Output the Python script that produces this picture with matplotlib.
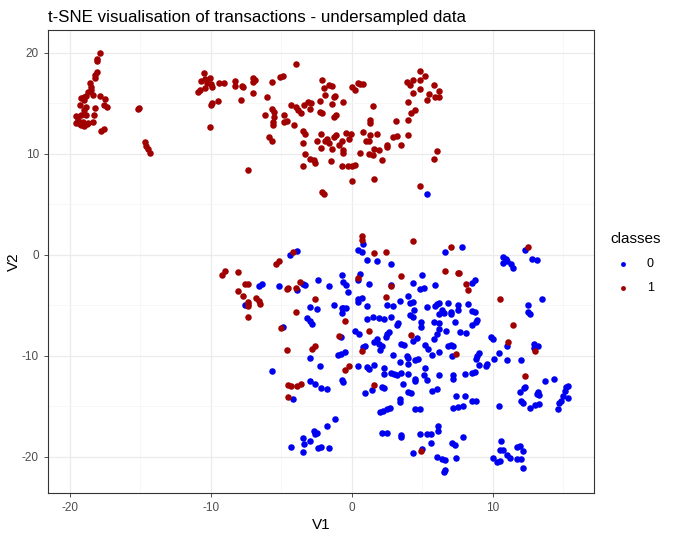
import numpy as np
import matplotlib
matplotlib.use('Agg')
import matplotlib.pyplot as plt

plt.rcParams['font.family'] = ['Liberation Sans', 'DejaVu Sans']
plt.rcParams['axes.unicode_minus'] = False

# t-SNE coordinates, [V1, V2]
class1_pts = [
    (-17.9, 20.0), (-18.1, 19.4), (-18.1, 19.2), (-18.1, 18.1), (-18.2, 17.8), (-18.2, 17.5),
    (-18.6, 17.0), (-18.5, 16.6), (-18.5, 16.3), (-18.7, 16.1), (-18.4, 15.8), (-18.9, 15.7),
    (-19.2, 15.5), (-19.0, 15.3), (-19.0, 15.6), (-17.9, 15.7), (-17.5, 15.4), (-17.6, 14.8),
    (-17.4, 14.6), (-19.3, 14.8), (-18.9, 14.6), (-19.0, 14.3), (-18.2, 14.5), (-19.6, 13.7),
    (-19.2, 13.8), (-18.9, 13.8), (-18.3, 13.8), (-19.4, 13.3), (-19.1, 13.1), (-19.2, 12.8),
    (-18.8, 12.9), (-18.7, 13.0), (-19.6, 13.0), (-18.4, 13.1), (-19.3, 12.9), (-19.0, 12.7),
    (-17.8, 12.2), (-17.6, 12.4), (-15.2, 14.4), (-15.1, 14.5), (-14.7, 11.2), (-14.6, 10.8),
    (-14.5, 10.5), (-14.3, 10.1),
    (-10.5, 18.0), (-10.7, 17.2), (-10.4, 17.4), (-10.1, 17.5), (-10.3, 17.0), (-10.0, 16.9),
    (-9.9, 16.6), (-10.4, 16.5), (-10.9, 16.1), (-10.8, 16.3), (-9.4, 17.0), (-9.1, 17.0),
    (-8.3, 17.2), (-8.3, 16.7), (-7.8, 16.7), (-7.7, 16.6), (-7.9, 15.3), (-9.5, 15.2),
    (-10.0, 14.8), (-9.9, 15.0), (-10.1, 12.6), (-7.0, 17.5), (-7.0, 17.1), (-6.9, 17.3),
    (-7.0, 16.0), (-7.4, 8.4), (-5.7, 17.1), (-5.1, 17.6), (-4.9, 17.7), (-4.0, 18.9),
    (-6.0, 15.6), (-6.2, 13.8), (-5.7, 14.4), (-5.5, 14.1), (-5.5, 13.6), (-5.6, 13.1),
    (-5.6, 12.8), (-5.9, 11.6), (-5.7, 11.3), (-4.8, 13.8), (-4.8, 13.1), (-4.6, 13.2),
    (-4.1, 12.8), (-4.3, 14.8), (-4.0, 14.6), (-3.8, 14.3), (-3.6, 14.0), (-3.4, 14.8),
    (-3.1, 15.1), (-2.9, 15.0), (-3.0, 14.4), (-3.5, 12.2), (-3.3, 11.9), (-3.5, 11.1),
    (-3.3, 10.0), (-3.5, 8.8), (-3.0, 9.5), (-2.7, 9.4), (-2.6, 9.1), (-2.2, 11.9),
    (-2.5, 11.3), (-2.2, 10.6), (-2.1, 17.3), (-2.0, 16.5), (-1.9, 15.8), (-2.3, 15.2),
    (-2.3, 14.1), (-2.1, 14.0), (-1.6, 16.8), (-1.4, 16.7), (-1.4, 14.9), (-1.3, 15.6),
    (-1.2, 15.7), (-1.3, 13.6), (-1.1, 13.8), (-0.6, 15.1), (-1.9, 11.3), (-1.8, 11.5),
    (-1.6, 11.1), (-1.4, 10.5), (-1.3, 11.6), (-1.1, 11.8), (-0.9, 10.9), (-0.7, 11.3),
    (-0.6, 10.4), (-0.6, 10.1), (-0.4, 12.0), (-0.1, 11.9), (-0.2, 11.5), (-1.5, 9.3),
    (-0.7, 8.8), (-0.3, 8.8), (0.0, 8.8), (0.2, 8.9), (0.0, 7.3), (-2.1, 6.2),
    (-2.0, 6.0), (0.0, 16.6), (0.2, 16.3), (0.4, 17.0), (0.6, 16.9), (0.8, 16.9),
    (1.5, 14.7), (1.3, 13.3), (1.3, 13.0), (0.8, 12.1), (1.3, 11.8), (1.2, 11.3),
    (1.0, 11.3), (1.8, 11.9), (0.6, 10.1), (1.2, 10.0), (1.5, 9.9), (1.6, 10.5),
    (1.9, 10.4), (2.1, 9.4), (1.6, 7.5), (2.5, 10.9), (2.5, 10.7), (2.9, 11.6),
    (3.2, 11.7), (3.1, 13.2), (3.5, 10.9), (4.0, 11.8), (4.0, 13.3), (4.0, 15.1),
    (4.2, 14.0), (4.5, 14.3), (4.3, 16.0), (3.9, 17.1), (4.1, 16.8), (4.3, 17.3),
    (4.8, 18.2), (5.2, 17.7), (4.8, 17.3), (4.8, 16.4), (5.3, 15.3), (5.5, 15.9),
    (5.8, 16.8), (6.2, 16.2), (5.9, 15.6), (6.2, 15.6), (5.8, 9.5), (6.0, 10.3),
    (4.8, 6.8),
    (0.7, 1.8), (0.7, 1.5), (-4.2, 0.3), (-5.4, -0.9), (-5.2, -0.6), (-9.2, -2.0),
    (-9.0, -1.6), (-8.1, -1.7), (-7.6, -2.9), (-7.4, -2.9), (-8.1, -3.6), (-7.7, -4.1),
    (-7.4, -4.7), (-7.4, -5.1), (-7.4, -4.9), (-6.8, -4.3), (-6.6, -4.6), (-6.5, -4.9),
    (-7.4, -6.2), (-4.6, -3.4), (-4.5, -3.3), (-4.0, -3.3), (-3.7, -2.7), (0.4, -2.3),
    (-2.6, -4.4), (-4.0, -5.7), (-0.5, -6.6), (-5.0, -7.3), (-0.9, -8.1), (1.2, -7.6),
    (-2.8, -9.3), (-2.6, -9.0), (-4.6, -9.4), (0.7, -9.5), (4.3, 1.4), (1.6, 0.2),
    (2.4, 0.3), (7.0, 0.8), (12.5, 0.8), (6.6, -1.6), (7.5, -1.8), (7.6, -1.8),
    (3.5, -2.1), (2.8, -3.1), (8.1, -2.9), (8.2, -3.5), (2.4, -4.2), (10.5, -4.4),
    (4.2, -8.0), (11.4, -7.0), (11.1, -8.6), (7.4, -9.8), (13.0, -9.5), (-0.5, -11.4),
    (-0.2, -11.0), (1.6, -12.9), (12.3, -12.0), (-4.5, -12.9), (-4.3, -13.0), (-3.9, -13.0),
    (-3.6, -12.8), (-4.5, -14.1), (4.9, -19.4),
]

class0_pts = [
    (5.3, 6.0),
    (-4.4, 0.0), (-3.9, 0.4), (-7.6, -5.0), (-6.6, -3.1), (-6.4, -2.9), (-5.2, -3.1),
    (-3.9, -3.5), (-3.5, -2.9), (-3.3, -3.0), (-2.4, -2.5), (-1.6, -3.1), (-0.7, -2.0),
    (-0.6, -2.7), (-0.4, -3.0), (-0.3, -3.7), (0.6, -1.9), (0.4, -2.5), (1.1, -0.5),
    (0.4, 0.5), (0.7, 0.3), (0.8, 1.1), (-3.0, -5.2), (-2.5, -5.4), (-1.3, -5.0),
    (-0.7, -5.8), (-0.6, -5.3), (-0.4, -5.3), (0.4, -4.4), (0.7, -4.3), (0.4, -4.7),
    (1.1, -5.1), (-3.2, -6.3), (-3.0, -6.6), (-2.8, -6.9), (-4.9, -7.2), (-0.8, -8.2),
    (0.2, -7.6), (0.5, -7.9), (-1.0, -9.9), (-0.8, -9.8), (-0.5, -9.6), (0.9, -9.0),
    (0.8, -9.1), (-3.0, -10.2), (1.1, -6.4), (1.8, -0.6), (2.8, -0.9), (6.6, 0.3),
    (7.8, 0.8), (12.3, 0.5), (10.7, -0.2), (10.9, -0.4), (10.7, -0.8), (11.0, -0.6),
    (11.3, -0.9), (11.4, -1.3), (12.8, -0.4), (13.1, -0.5), (1.2, -2.9), (5.0, -2.0),
    (4.3, -2.8), (4.8, -3.4), (5.1, -3.3), (5.9, -3.0), (8.7, -2.5), (8.5, -2.8),
    (2.8, -3.0), (13.5, -4.4), (2.5, -5.0), (2.9, -5.1), (3.4, -4.6), (4.0, -4.1),
    (4.1, -4.8), (4.3, -4.7), (5.3, -5.2), (5.9, -5.1), (6.0, -4.9), (6.2, -4.8),
    (6.8, -4.8), (7.5, -5.0), (8.2, -4.9), (8.5, -5.6), (8.7, -5.7), (7.5, -5.5),
    (7.0, -5.7), (7.0, -5.9), (6.4, -5.5), (6.5, -5.8), (6.2, -5.9), (12.5, -5.0),
    (12.5, -5.7), (12.6, -5.9), (-0.7, -5.3), (1.5, -6.2), (1.9, -6.3), (2.3, -6.4),
    (2.8, -6.2), (3.2, -7.0), (3.3, -6.8), (4.1, -6.0), (4.3, -6.2), (4.4, -5.5),
    (4.9, -6.7), (4.9, -7.2), (5.8, -6.7), (6.2, -6.8), (6.2, -7.4), (6.7, -7.6),
    (7.3, -6.7), (8.5, -7.0), (8.8, -6.7), (8.9, -6.5), (2.5, -7.9), (2.6, -7.7),
    (2.4, -8.2), (1.6, -8.6), (1.8, -8.4), (1.9, -8.8), (2.1, -9.0), (2.0, -9.4),
    (4.6, -8.3), (4.3, -8.5), (6.0, -7.9), (5.8, -8.4), (7.7, -7.7), (8.1, -7.8),
    (9.9, -8.2), (10.0, -8.4), (3.5, -8.8), (3.7, -8.9), (5.2, -8.9), (5.4, -9.3),
    (6.8, -9.0), (7.0, -8.9), (7.2, -9.0), (12.9, -8.8), (13.2, -9.0), (12.9, -9.2),
    (11.0, -9.0), (2.9, -9.9), (3.9, -10.0), (4.0, -10.2), (4.5, -10.4), (4.7, -10.3),
    (5.7, -9.9), (6.2, -9.6), (7.1, -10.0), (9.0, -9.7), (8.9, -10.0), (8.8, -10.3),
    (10.4, -9.7), (10.1, -10.3), (11.0, -10.4), (12.0, -10.4), (3.4, -10.6), (4.0, -10.8),
    (-5.7, -11.5), (-2.3, -11.0), (0.4, -11.0), (1.1, -11.1), (1.2, -11.3), (1.6, -10.9),
    (2.3, -11.2), (2.3, -11.8), (2.8, -11.7), (3.0, -11.8), (3.2, -11.9), (3.5, -11.7),
    (4.0, -11.8), (4.5, -12.3), (4.5, -12.5), (3.6, -12.8), (5.1, -11.9), (5.2, -11.2),
    (5.3, -12.4), (6.2, -11.9), (7.2, -11.9), (7.2, -12.3), (8.0, -11.8), (8.5, -11.7),
    (8.7, -11.6), (9.0, -10.9), (9.5, -11.0), (9.6, -10.8), (13.7, -12.5), (14.3, -12.3),
    (15.2, -13.1), (15.3, -13.0), (15.1, -13.5), (-3.0, -12.5), (-2.6, -12.8), (-2.2, -13.2),
    (-1.8, -13.3), (-0.7, -12.4), (-0.6, -12.6), (-4.2, -14.3), (0.9, -13.7), (1.4, -13.4),
    (2.1, -13.1), (2.3, -13.2), (3.4, -14.6), (3.4, -14.3), (4.0, -13.6), (4.2, -13.7),
    (5.7, -13.5), (6.0, -13.3), (7.4, -14.0), (8.0, -14.0), (8.5, -14.5), (8.8, -14.5),
    (7.2, -15.2), (7.5, -15.1), (7.9, -15.0), (2.0, -15.6), (2.2, -15.5), (2.5, -15.3),
    (2.7, -15.2), (4.5, -15.3), (4.8, -15.3), (10.4, -15.0), (11.9, -13.6), (12.2, -13.2),
    (12.3, -13.1), (12.0, -14.5), (12.1, -14.7), (13.2, -13.6), (13.3, -13.9), (13.1, -13.8),
    (12.6, -15.2), (13.0, -14.9), (13.3, -14.8), (15.0, -14.0), (14.8, -14.5), (14.7, -14.7),
    (14.6, -15.3), (15.3, -14.2),
    (-1.2, -16.3), (-1.8, -17.0), (-2.7, -17.5), (-2.6, -17.8), (-2.5, -17.7), (-3.0, -18.4),
    (-3.5, -18.2), (-3.4, -18.7), (-2.4, -19.1), (-2.2, -19.0), (-1.6, -19.1), (-3.5, -19.5),
    (-4.3, -19.0), (2.1, -17.7), (2.5, -17.7), (3.5, -18.1), (3.5, -17.9), (4.3, -19.6),
    (5.0, -19.2), (4.8, -17.8), (5.3, -17.8), (5.6, -17.8), (5.6, -18.6), (6.1, -17.0),
    (6.1, -17.5), (7.1, -18.6), (7.3, -18.8), (7.9, -18.1), (6.0, -20.0), (6.4, -20.2),
    (6.6, -20.3), (7.4, -20.1), (6.6, -21.3), (6.5, -21.5), (10.6, -18.4), (10.5, -19.3),
    (10.7, -19.3), (10.0, -20.1), (10.3, -20.5), (10.5, -20.4), (11.0, -19.8), (11.2, -20.1),
    (11.7, -19.0), (11.9, -18.9), (12.1, -19.4), (11.7, -20.2), (12.0, -20.2), (12.1, -21.1),
]

class_names = ['0', '1']
class_colors = ['#0000F0', '#A00000']

c0 = np.array(class0_pts)
c1 = np.array(class1_pts)

fig = plt.figure(figsize=(6.81, 5.38), dpi=100)
ax = fig.add_axes([0.0705, 0.0836, 0.8015, 0.8604])

ax.scatter(c0[:, 0], c0[:, 1], s=22, color=class_colors[0], linewidths=0, label=class_names[0], zorder=3)
ax.scatter(c1[:, 0], c1[:, 1], s=22, color=class_colors[1], linewidths=0, label=class_names[1], zorder=3)

ax.set_xlim(-21.56, 17.16)
ax.set_ylim(-23.6, 22.23)
ax.set_xticks([-20, -10, 0, 10])
ax.set_yticks([-20, -10, 0, 10, 20])
ax.set_xticks([-15, -5, 5, 15], minor=True)
ax.set_yticks([-15, -5, 5, 15], minor=True)
ax.grid(which='major', color='#EBEBEB', linewidth=0.9)
ax.grid(which='minor', color='#F4F4F4', linewidth=0.5)
ax.set_axisbelow(True)
ax.tick_params(which='major', length=3, width=0.6, color='#333333', labelsize=8.5, labelcolor='#4D4D4D')
ax.tick_params(which='minor', length=0)
for sp in ax.spines.values():
    sp.set_color('#333333')
    sp.set_linewidth(0.8)

ax.set_xlabel('V1', fontsize=11, labelpad=3)
ax.set_ylabel('V2', fontsize=11)
ax.yaxis.set_label_coords(-0.049, 0.5)
ax.set_title('t-SNE visualisation of transactions - undersampled data', loc='left', fontsize=12.2, pad=6)

leg = ax.legend(title='classes', loc='center left', bbox_to_anchor=(1.01, 0.497), frameon=False,
                fontsize=9, title_fontsize=11, handletextpad=0.9, labelspacing=0.95, markerscale=0.75)
leg._legend_box.align = 'left'

fig.savefig('out.png', dpi=100)
